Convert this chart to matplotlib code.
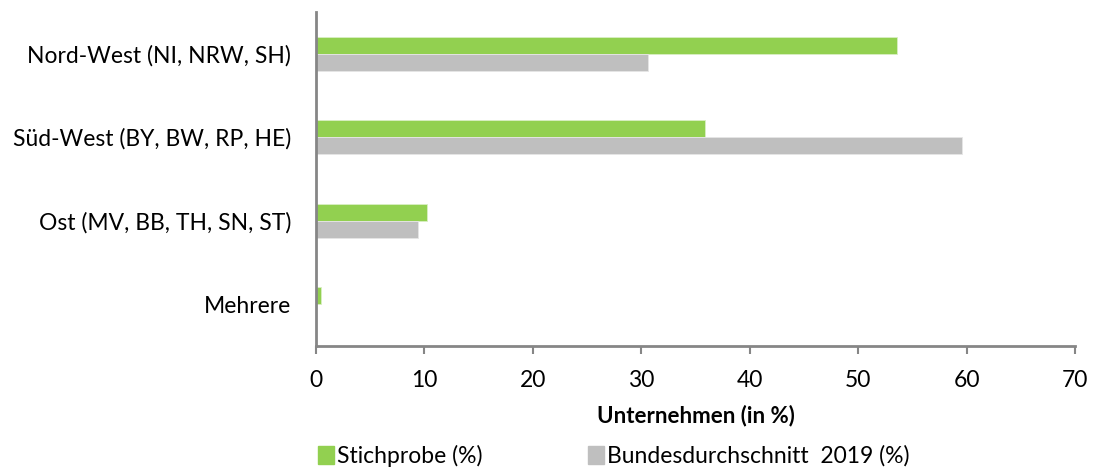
import numpy as np
import matplotlib
matplotlib.use("Agg")
import matplotlib.pyplot as plt
from matplotlib.patches import Patch

plt.rcParams['font.family'] = ['Lato', 'DejaVu Sans']

regions = ["Nord-West (NI, NRW, SH)", "Süd-West (BY, BW, RP, HE)",
           "Ost (MV, BB, TH, SN, ST)", "Mehrere"]
stichprobe = [53.6, 35.9, 10.2, 0.5]
bund_2019 = [30.6, 59.6, 9.4, 0.0]

green = "#92D050"
grey = "#BFBFBF"
axis_col = "#868686"

fig = plt.figure(figsize=(11, 4.71), dpi=100)
ax = fig.add_axes([316/1100, 125/471, (1075-316)/1100, (346-12)/471])

y = np.arange(len(regions))
h = 0.205
ax.barh(y - h/2, stichprobe, height=h, color=green, edgecolor="#d9efc4", linewidth=0.6)
ax.barh(y + h/2, bund_2019, height=h, color=grey, edgecolor="#e6e6e6", linewidth=0.6)

ax.set_xlim(0, 70)
ax.set_ylim(3.5, -0.5)
ax.set_xticks(range(0, 71, 10))
ax.set_yticks(y)
ax.set_yticklabels(regions)
ax.tick_params(axis='y', length=0, pad=18, labelsize=16.5)
ax.tick_params(axis='x', length=6, width=1.5, color=axis_col, pad=11, labelsize=16.5)
for s in ['top', 'right']:
    ax.spines[s].set_visible(False)
for s in ['left', 'bottom']:
    ax.spines[s].set_color(axis_col)
    ax.spines[s].set_linewidth(2)

ax.set_xlabel("Unternehmen (in %)", fontsize=16, fontweight='bold', labelpad=10)

handles = [Patch(color=green, label="Stichprobe (%)"),
           Patch(color=grey, label="Bundesdurchschnitt  2019 (%)")]
fig.legend(handles=handles, loc='lower left', bbox_to_anchor=(297/1100, -0.035),
           ncol=2, frameon=False, fontsize=16.5, handlelength=0.7, handleheight=0.8,
           handletextpad=0.15, columnspacing=4.6)

fig.savefig("out.png", dpi=100)
